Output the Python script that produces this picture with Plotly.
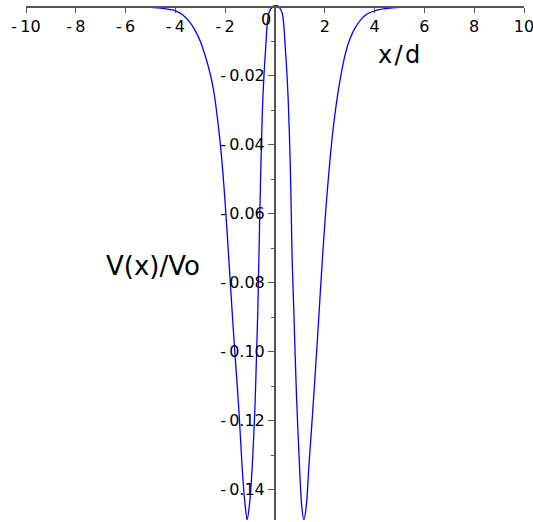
import plotly.graph_objects as go

# Curve samples (x/d, V(x)/Vo)
x_vals = [-10, -8, -6, -5, -4.5, -4, -3.7, -3.4, -3.2, -3.0, -2.8, -2.6, -2.46, -2.3,
          -2.16, -2.0, -1.83, -1.72, -1.6, -1.45, -1.32, -1.22, -1.12, -1.02, -0.92,
          -0.81, -0.74, -0.69, -0.65, -0.57, -0.49, -0.38, -0.25, -0.1, 0.03, 0.15,
          0.29, 0.42, 0.53, 0.62, 0.69, 0.76, 0.81, 0.87, 0.98, 1.07, 1.16, 1.26, 1.36,
          1.48, 1.6, 1.75, 1.9, 2.05, 2.2, 2.35, 2.56, 2.83, 3.0, 3.23, 3.5, 3.7, 4.1,
          4.5, 5, 6, 8, 10]
y_vals = [0.0, 0.0, -0.00005, -0.0002, -0.0005, -0.0012, -0.0024, -0.0047, -0.0070, -0.0100,
          -0.0143, -0.0195, -0.0245, -0.0330, -0.0425, -0.0570, -0.0760, -0.0885, -0.1015,
          -0.1170, -0.1335, -0.1430, -0.1488, -0.1440, -0.1340, -0.1170, -0.1005, -0.0880,
          -0.0740, -0.0470, -0.0270, -0.0126, -0.0019, 0.0, 0.0004, 0.0, -0.0019, -0.0126,
          -0.0270, -0.0480, -0.0734, -0.0890, -0.1010, -0.1140, -0.1325, -0.1445, -0.1488,
          -0.1445, -0.1333, -0.1210, -0.1080, -0.0910, -0.0735, -0.0580, -0.0450, -0.0345,
          -0.0235, -0.0135, -0.0095, -0.0060, -0.0033, -0.0021, -0.0010, -0.0005, -0.0002,
          -0.00005, 0.0, 0.0]

x_ticks = [-10, -8, -6, -4, -2, 2, 4, 6, 8, 10]
x_tick_text = ["-\u200910", "-\u20098", "-\u20096", "-\u20094", "-\u20092", "2", "4", "6", "8", "10"]
y_ticks = [-0.02, -0.04, -0.06, -0.08, -0.10, -0.12, -0.14]
y_tick_text = ["-\u20090.02", "-\u20090.04", "-\u20090.06", "-\u20090.08", "-\u20090.10",
               "-\u20090.12", "-\u20090.14"]
y_minor_ticks = [-0.01, -0.03, -0.05, -0.07, -0.09, -0.11, -0.13]

x_range = [-10, 10]
y_range = [-0.1488, 0.0005]

axis_color = "#555555"
font_family = "DejaVu Sans"

W, H = 533, 522
ML, MR, MT, MB = 26, 9, 5, 2
plot_w = W - ML - MR
plot_h = H - MT - MB

fig = go.Figure()
fig.add_trace(go.Scatter(x=x_vals, y=y_vals, mode="lines",
                         line=dict(color="#0000ff", width=1.3, shape="spline", smoothing=0.8),
                         hoverinfo="skip", showlegend=False))

xpos = (0 - y_range[0]) / (y_range[1] - y_range[0])
ypos = (0 - x_range[0]) / (x_range[1] - x_range[0])


def px_to_paper(px, py):
    return (px - ML) / plot_w, 1 - (py - MT) / plot_h


xd_x, xd_y = px_to_paper(399, 55)
vv_x, vv_y = px_to_paper(153, 266)

fig.update_layout(
    width=W, height=H,
    margin=dict(l=ML, r=MR, t=MT, b=MB, autoexpand=False),
    paper_bgcolor="white", plot_bgcolor="white",
    font=dict(family=font_family, color="black", size=16),
    xaxis=dict(range=x_range, anchor="free", position=xpos, side="bottom",
               automargin=False, ticklabeloverflow="allow",
               showgrid=False, zeroline=False, showline=True, linecolor=axis_color,
               linewidth=2, ticks="outside", ticklen=5, tickwidth=1, tickcolor=axis_color,
               tickvals=x_ticks, ticktext=x_tick_text, tickfont=dict(size=16)),
    yaxis=dict(range=y_range, anchor="free", position=ypos, side="left",
               automargin=False, ticklabeloverflow="allow",
               showgrid=False, zeroline=False, showline=True, linecolor=axis_color,
               linewidth=2, ticks="outside", ticklen=6, tickwidth=1, tickcolor=axis_color,
               tickvals=y_ticks, ticktext=y_tick_text, tickfont=dict(size=16),
               minor=dict(tickvals=y_minor_ticks, ticks="outside", ticklen=3,
                          tickcolor=axis_color)),
    annotations=[
        dict(text="0", x=-0.35, y=-0.0036, xref="x", yref="y", showarrow=False,
             font=dict(size=16)),
        dict(text="x\u200a/\u200ad", x=xd_x, y=xd_y, xref="paper", yref="paper",
             showarrow=False, xanchor="center", yanchor="middle", font=dict(size=24)),
        dict(text="V(x)/Vo", x=vv_x, y=vv_y, xref="paper", yref="paper", showarrow=False,
             xanchor="center", yanchor="middle", font=dict(size=26)),
    ],
)

fig.write_html("out.html", config={"displayModeBar": False},
               post_script="document.body.style.margin='0';")
